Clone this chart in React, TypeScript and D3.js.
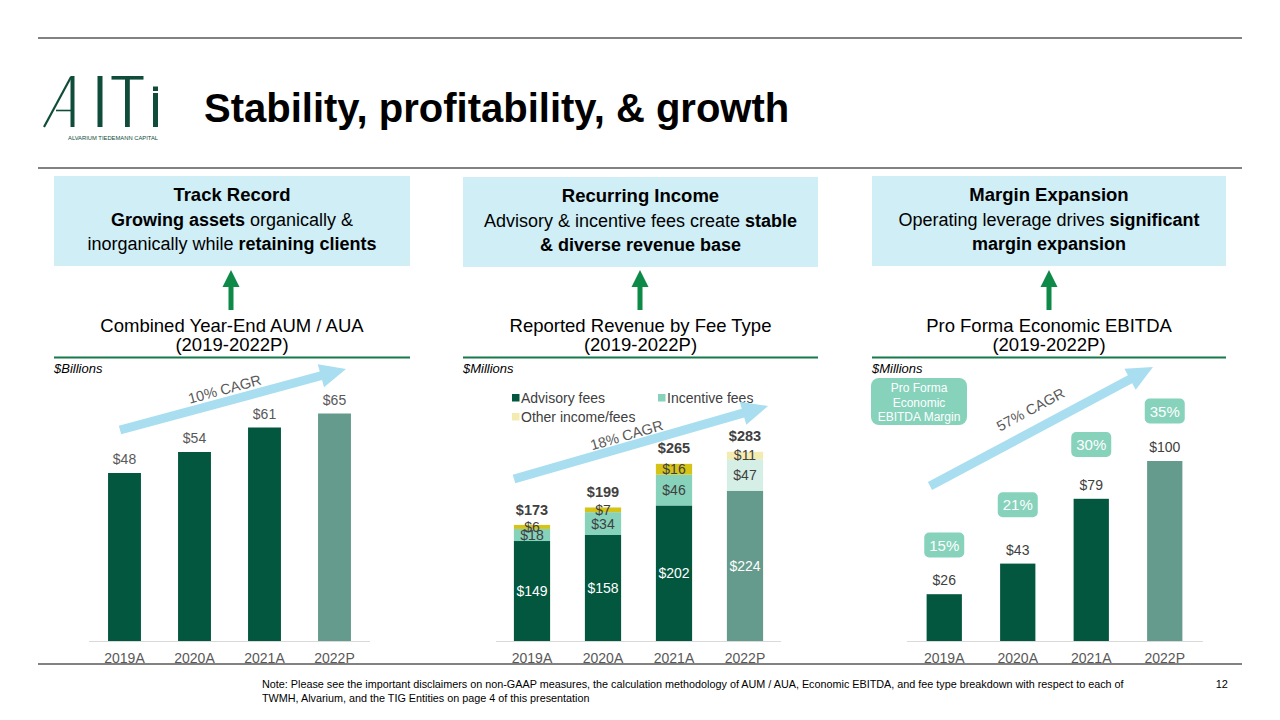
import * as d3 from 'd3'
import { useEffect } from 'react'

const years = ['2019A', '2020A', '2021A', '2022P']

// chart 1: combined year-end AUM / AUA, $B
const aum = [48, 54, 61, 65]

// chart 2: reported revenue by fee type, $M
const advisory = [149, 158, 202, 224]
const incentive = [18, 34, 46, 47]
const other = [6, 7, 16, 11]
const revTotals = [173, 199, 265, 283]

// chart 3: pro forma economic EBITDA, $M, and margin
const ebitda = [26, 43, 79, 100]
const margins = [15, 21, 30, 35]

const font = "Arial, 'Liberation Sans', sans-serif"
const DARK = '#03573f'
const PROJ = '#659b8c'
const MINT = '#86d2bb'
const MINT_P = '#d5efe6'
const YEL = '#d6c317'
const YEL_P = '#f3ebb0'
const BLUE_BOX = '#cfeef6'
const CAGR = '#a8def0'
const GRAY = '#404040'
const AX = '#595959'

const baseY = 641

function CagrArrow({ x1, y1, x2, y2, label, lx, ly }: { x1: number, y1: number, x2: number, y2: number, label: string, lx: number, ly: number }) {
  const ang = Math.atan2(y2 - y1, x2 - x1)
  const deg = ang * 180 / Math.PI
  const len = Math.hypot(x2 - x1, y2 - y1)
  const head = 26, hw = 12, sw = 4.5
  const path = `M0,${-sw} L${len - head},${-sw} L${len - head},${-hw} L${len},0 L${len - head},${hw} L${len - head},${sw} L0,${sw} Z`
  return (
    <g>
      <path d={path} fill={CAGR} transform={`translate(${x1},${y1}) rotate(${deg})`} />
      <text x={lx} y={ly} transform={`rotate(${deg},${lx},${ly})`} textAnchor="middle" fontSize={14.5} fill={AX}>{label}</text>
    </g>
  )
}

function Header({ x, y, w, h, title, lines }: { x: number, y: number, w: number, h: number, title: string, lines: { t: string, b?: boolean }[][] }) {
  const cx = x + w / 2
  return (
    <g>
      <rect x={x} y={y} width={w} height={h} fill={BLUE_BOX} />
      <text x={cx} y={y + 25} textAnchor="middle" fontSize={18.5} fontWeight="bold" fill="#000">{title}</text>
      {lines.map((ln, i) => (
        <text key={i} x={cx} y={y + 50 + i * 24} textAnchor="middle" fontSize={18} fill="#000">
          {ln.map((s, j) => <tspan key={j} fontWeight={s.b ? 'bold' : 'normal'}>{s.t}</tspan>)}
        </text>
      ))}
    </g>
  )
}

function UpArrow({ cx }: { cx: number }) {
  return <path d={`M${cx},270 L${cx + 8.5},287 L${cx + 2.5},287 L${cx + 2.5},310 L${cx - 2.5},310 L${cx - 2.5},287 L${cx - 8.5},287 Z`} fill="#0d8a48" />
}

function SubTitle({ x, w, l1, unit }: { x: number, w: number, l1: string, unit: string }) {
  return (
    <g>
      <text x={x + w / 2} y={332} textAnchor="middle" fontSize={18.5} fill="#000">{l1}</text>
      <text x={x + w / 2} y={351} textAnchor="middle" fontSize={18.5} fill="#000">(2019-2022P)</text>
      <line x1={x} x2={x + w} y1={357.5} y2={357.5} stroke="#17784a" strokeWidth={2} />
      <text x={x} y={373} fontSize={13} fontStyle="italic" fill="#000">{unit}</text>
    </g>
  )
}

function Axis({ x0, x1, xs }: { x0: number, x1: number, xs: d3.ScaleBand<string> }) {
  return (
    <g>
      <line x1={x0} x2={x1} y1={baseY + 0.5} y2={baseY + 0.5} stroke="#d9d9d9" strokeWidth={1} />
      {years.map(c => (
        <text key={c} x={xs(c)! + xs.bandwidth() / 2} y={663} textAnchor="middle" fontSize={14} fill={AX}>{c}</text>
      ))}
    </g>
  )
}

export default function App() {
  useEffect(() => { document.body.style.margin = '0' }, [])

  // chart 1
  const x1 = d3.scaleBand<string>().domain(years).range([89.5, 369.5]).paddingInner(0.53).paddingOuter(0.265)
  const y1 = d3.scaleLinear().domain([0, 80]).range([baseY, baseY - 280])

  // chart 2
  const x2 = d3.scaleBand<string>().domain(years).range([496.5, 780.5]).paddingInner(0.49).paddingOuter(0.245)
  const y2 = d3.scaleLinear().domain([0, 300]).range([baseY, baseY - 201.3])
  const stackRows = years.map((c, i) => ({ year: c, advisory: advisory[i], incentive: incentive[i], other: other[i] }))
  const stack = d3.stack<{ year: string, advisory: number, incentive: number, other: number }>().keys(['advisory', 'incentive', 'other'])(stackRows)
  const segFill = (key: string, i: number) => {
    const p = years[i].endsWith('P')
    if (key === 'advisory') return p ? PROJ : DARK
    if (key === 'incentive') return p ? MINT_P : MINT
    return p ? YEL_P : YEL
  }

  // chart 3
  const x3 = d3.scaleBand<string>().domain(years).range([907.5, 1201.5]).paddingInner(0.52).paddingOuter(0.26)
  const y3 = d3.scaleLinear().domain([0, 100]).range([baseY, baseY - 180])
  const yM = d3.scaleLinear().domain([15, 35]).range([545, 411])

  const barFill = (c: string) => c.endsWith('P') ? PROJ : DARK

  return (
    <svg width={1280} height={720} style={{ display: 'block', fontFamily: font }}>
      <rect width={1280} height={720} fill="#fff" />
      {/* page rules */}
      <line x1={38} x2={1242} y1={38} y2={38} stroke={AX} strokeWidth={1.5} />
      <line x1={38} x2={1242} y1={168} y2={168} stroke={AX} strokeWidth={1.5} />
      <line x1={38} x2={1242} y1={664} y2={664} stroke={AX} strokeWidth={1.5} />

      {/* logo */}
      <g fill="#0f4d3a" stroke="#0f4d3a">
        <line x1={44} y1={127} x2={71} y2={77} strokeWidth={2.2} />
        <rect x={70.5} y={76} width={4} height={51} stroke="none" />
        <line x1={56} y1={110.5} x2={72} y2={110.5} strokeWidth={1.6} />
        <rect x={97.5} y={76} width={5} height={51} stroke="none" />
        <rect x={111.5} y={76} width={32} height={3.6} stroke="none" />
        <rect x={125} y={76} width={4.8} height={51} stroke="none" />
        <rect x={153} y={93} width={5} height={34} stroke="none" />
        <rect x={153} y={86.5} width={5} height={4.5} stroke="none" />
        <text x={68} y={140} fontSize={5.6} stroke="none" textLength={90} lengthAdjust="spacingAndGlyphs">ALVARIUM TIEDEMANN CAPITAL</text>
      </g>
      <text x={204} y={122} fontSize={40} fontWeight="bold" fill="#000">Stability, profitability, &amp; growth</text>

      {/* headers */}
      <Header x={54} y={176} w={356} h={90} title="Track Record" lines={[[{ t: 'Growing assets', b: true }, { t: ' organically &' }], [{ t: 'inorganically while ' }, { t: 'retaining clients', b: true }]]} />
      <Header x={463} y={177} w={355} h={90} title="Recurring Income" lines={[[{ t: 'Advisory & incentive fees create ' }, { t: 'stable', b: true }], [{ t: '& diverse revenue base', b: true }]]} />
      <Header x={872} y={176} w={354} h={90} title="Margin Expansion" lines={[[{ t: 'Operating leverage drives ' }, { t: 'significant', b: true }], [{ t: 'margin expansion', b: true }]]} />
      <UpArrow cx={231} />
      <UpArrow cx={640} />
      <UpArrow cx={1049} />

      <SubTitle x={54} w={356} l1="Combined Year-End AUM / AUA" unit="$Billions" />
      <SubTitle x={463} w={355} l1="Reported Revenue by Fee Type" unit="$Millions" />
      <SubTitle x={872} w={354} l1="Pro Forma Economic EBITDA" unit="$Millions" />

      {/* chart 1 */}
      <g>
        {years.map((c, i) => (
          <g key={c}>
            <rect x={x1(c)} y={y1(aum[i])} width={x1.bandwidth()} height={baseY - y1(aum[i])} fill={barFill(c)} />
            <text x={x1(c)! + x1.bandwidth() / 2} y={y1(aum[i]) - 9} textAnchor="middle" fontSize={14} fill={AX}>${aum[i]}</text>
          </g>
        ))}
        <Axis x0={89} x1={370} xs={x1} />
        <CagrArrow x1={120} y1={430} x2={346} y2={369} label="10% CAGR" lx={226} ly={394} />
      </g>

      {/* chart 2 */}
      <g>
        {stack.map(s => s.map((d, i) => {
          const c = years[i]
          const yTop = y2(d[1]), yBot = y2(d[0])
          const cx = x2(c)! + x2.bandwidth() / 2
          const v = d[1] - d[0]
          return (
            <g key={s.key + c}>
              <rect x={x2(c)} y={yTop} width={x2.bandwidth()} height={yBot - yTop} fill={segFill(s.key, i)} />
              <text x={cx} y={(yTop + yBot) / 2 + 5} textAnchor="middle" fontSize={14} fill={s.key === 'advisory' ? '#fff' : GRAY}>${v}</text>
            </g>
          )
        }))}
        {years.map((c, i) => (
          <text key={c} x={x2(c)! + x2.bandwidth() / 2} y={y2(revTotals[i]) - 10} textAnchor="middle" fontSize={14.5} fontWeight="bold" fill={GRAY}>${revTotals[i]}</text>
        ))}
        <Axis x0={496} x1={781} xs={x2} />
        {[
          { label: 'Advisory fees', color: DARK, x: 512, y: 403 },
          { label: 'Incentive fees', color: MINT, x: 658, y: 403 },
          { label: 'Other income/fees', color: YEL_P, x: 512, y: 422 },
        ].map(l => (
          <g key={l.label}>
            <rect x={l.x} y={l.y - 9} width={7.5} height={7.5} fill={l.color} />
            <text x={l.x + 9} y={l.y} fontSize={14} fill={GRAY}>{l.label}</text>
          </g>
        ))}
        <CagrArrow x1={514} y1={479} x2={768} y2={406} label="18% CAGR" lx={628} ly={440} />
      </g>

      {/* chart 3 */}
      <g>
        {years.map((c, i) => {
          const cx = x3(c)! + x3.bandwidth() / 2
          return (
            <g key={c}>
              <rect x={x3(c)} y={y3(ebitda[i])} width={x3.bandwidth()} height={baseY - y3(ebitda[i])} fill={barFill(c)} />
              <text x={cx} y={y3(ebitda[i]) - 9} textAnchor="middle" fontSize={14} fill={GRAY}>${ebitda[i]}</text>
              <rect x={cx - 20} y={yM(margins[i]) - 12.5} width={40} height={25} rx={5} fill={MINT} />
              <text x={cx} y={yM(margins[i]) + 5.5} textAnchor="middle" fontSize={15} fill="#fff">{margins[i]}%</text>
            </g>
          )
        })}
        <Axis x0={907} x1={1203} xs={x3} />
        <rect x={871} y={378} width={96} height={47} rx={8} fill={MINT} />
        {['Pro Forma', 'Economic', 'EBITDA Margin'].map((t, i) => (
          <text key={t} x={919} y={392 + i * 14.5} textAnchor="middle" fontSize={12} fill="#fff">{t}</text>
        ))}
        <CagrArrow x1={930} y1={486} x2={1153} y2={367} label="57% CAGR" lx={1033} ly={414} />
      </g>

      {/* footnote */}
      <text x={262} y={688} fontSize={10.8} fill="#000">Note: Please see the important disclaimers on non-GAAP measures, the calculation methodology of AUM / AUA, Economic EBITDA, and fee type breakdown with respect to each of</text>
      <text x={262} y={702} fontSize={10.8} fill="#000">TWMH, Alvarium, and the TIG Entities on page 4 of this presentation</text>
      <text x={1228} y={688} fontSize={11} fill="#000" textAnchor="end">12</text>
    </svg>
  )
}
